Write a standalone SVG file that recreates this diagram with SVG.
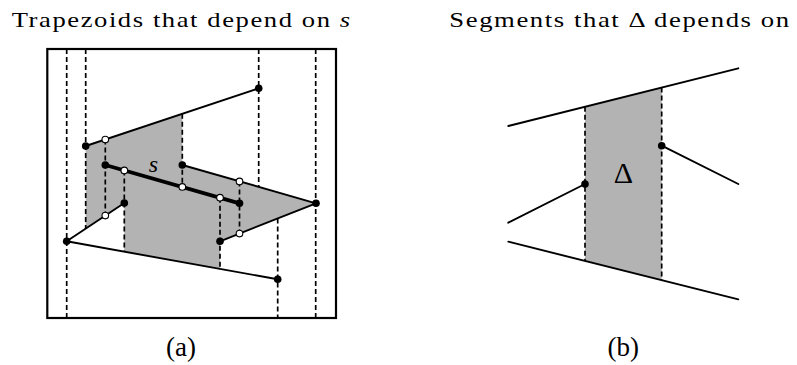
<svg xmlns="http://www.w3.org/2000/svg" width="797" height="365" viewBox="0 0 797 365">
<style>
.t{font-family:"Liberation Serif","Times New Roman",serif;fill:#000}
.title{font-size:22px;letter-spacing:1.3px}
.fill{fill:#b3b3b3;stroke:none}
.dash{stroke:#000;stroke-width:1.7;stroke-dasharray:5 3;fill:none}
.seg{stroke:#000;stroke-width:1.9;fill:none;stroke-linecap:round}
.thick{stroke:#000;stroke-width:3.8;fill:none;stroke-linecap:round}
.bp{fill:#000}
.wp{fill:#fff;stroke:#000;stroke-width:1.1}
</style>
<rect width="797" height="365" fill="#fff"/>
<text class="t title" x="11.7" y="27" textLength="340" lengthAdjust="spacingAndGlyphs">Trapezoids that depend on <tspan font-style="italic">s</tspan></text>
<text class="t title" x="449.3" y="27" textLength="341.4" lengthAdjust="spacingAndGlyphs">Segments that Δ depends on</text>

<g id="panel-a">
<rect x="47.3" y="49" width="288.7" height="269" fill="none" stroke="#000" stroke-width="2.2"/>
<polygon class="fill" points="85.7,146 182.3,113.8 182.3,165 316,203.3 220,241.3 220,268.9 124.3,251.7 124.3,203 85.7,228.7"/>
<g id="dashes-a">
<line class="dash" x1="66.7" y1="49" x2="66.7" y2="318"/>
<line class="dash" x1="85.7" y1="49" x2="85.7" y2="228.7"/>
<line class="dash" x1="105.3" y1="139.5" x2="105.3" y2="215.6"/>
<line class="dash" x1="124.3" y1="170.4" x2="124.3" y2="251.7"/>
<line class="dash" x1="182.3" y1="113.8" x2="182.3" y2="186.9"/>
<line class="dash" x1="220" y1="197.7" x2="220" y2="268.9"/>
<line class="dash" x1="239.5" y1="181.4" x2="239.5" y2="233.6"/>
<line class="dash" x1="258.7" y1="49" x2="258.7" y2="186.9"/>
<line class="dash" x1="277.7" y1="218.5" x2="277.7" y2="318"/>
<line class="dash" x1="315.7" y1="49" x2="315.7" y2="318"/>
</g>
<g id="segments-a">
<line class="seg" x1="85.7" y1="146" x2="258.7" y2="88.3"/>
<line class="seg" x1="182.3" y1="165" x2="316" y2="203.3"/>
<line class="seg" x1="66.7" y1="241.3" x2="124.3" y2="203"/>
<line class="seg" x1="66.7" y1="241.3" x2="277.7" y2="279.3"/>
<line class="seg" x1="220" y1="241.3" x2="316" y2="203.3"/>
<line class="thick" x1="105.3" y1="165" x2="239.5" y2="203.3"/>
</g>
<g id="points-a">
<circle class="bp" cx="258.7" cy="88.3" r="3.8"/>
<circle class="bp" cx="85.7" cy="146" r="3.8"/>
<circle class="bp" cx="182.3" cy="165" r="3.8"/>
<circle class="bp" cx="316" cy="203.3" r="3.8"/>
<circle class="bp" cx="66.7" cy="241.3" r="3.8"/>
<circle class="bp" cx="124.3" cy="203" r="3.8"/>
<circle class="bp" cx="220" cy="241.3" r="3.8"/>
<circle class="bp" cx="277.7" cy="279.3" r="3.8"/>
<circle class="bp" cx="105.3" cy="165" r="3.8"/>
<circle class="bp" cx="239.5" cy="203.3" r="3.8"/>
<circle class="wp" cx="105.3" cy="139.5" r="3.3"/>
<circle class="wp" cx="124.3" cy="170.4" r="3.3"/>
<circle class="wp" cx="182.3" cy="186.9" r="3.3"/>
<circle class="wp" cx="220" cy="197.7" r="3.3"/>
<circle class="wp" cx="239.5" cy="181.4" r="3.3"/>
<circle class="wp" cx="239.5" cy="233.6" r="3.3"/>
<circle class="wp" cx="105.3" cy="215.6" r="3.3"/>
</g>
<text class="t" x="153.3" y="171.7" font-size="24" font-style="italic" text-anchor="middle">s</text>
<text class="t" x="181" y="355.5" font-size="27" text-anchor="middle">(a)</text>
</g>

<g id="panel-b">
<polygon class="fill" points="585,106.8 661.7,87.5 661.7,280.1 585,260.9"/>
<line class="dash" x1="585" y1="106.8" x2="585" y2="260.9"/>
<line class="dash" x1="661.7" y1="87.5" x2="661.7" y2="280.1"/>
<line class="seg" x1="508.3" y1="126" x2="738.3" y2="68.3"/>
<line class="seg" x1="508.3" y1="241.7" x2="738.3" y2="299.3"/>
<line class="seg" x1="508.3" y1="222.7" x2="585" y2="184"/>
<line class="seg" x1="661.7" y1="145.7" x2="738.3" y2="184"/>
<circle class="bp" cx="585" cy="184" r="3.8"/>
<circle class="bp" cx="661.7" cy="145.7" r="3.8"/>
<text class="t" x="623.3" y="183.3" font-size="30" text-anchor="middle">Δ</text>
<text class="t" x="623.3" y="355.5" font-size="27" text-anchor="middle">(b)</text>
</g>
</svg>
